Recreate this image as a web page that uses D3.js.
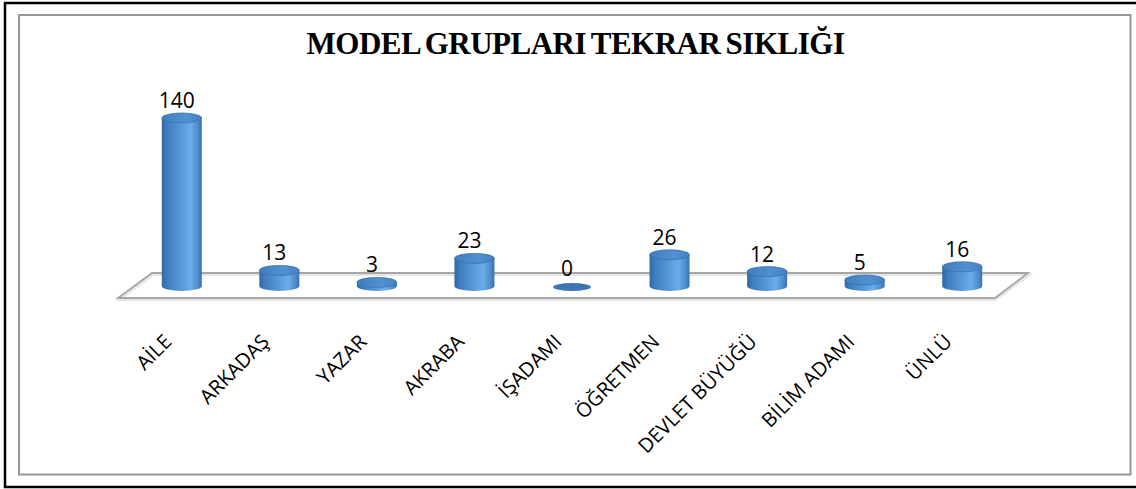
<!DOCTYPE html>
<html>
<head>
<meta charset="utf-8">
<script src="https://cdn.jsdelivr.net/npm/d3@7/dist/d3.min.js"></script>
<style>
  html, body { margin: 0; padding: 0; background: #fff; }
  svg { display: block; }
</style>
</head>
<body>
<svg id="chart" width="1136" height="489"></svg>
<script>
const categories = ["AİLE", "ARKADAŞ", "YAZAR", "AKRABA", "İŞADAMI", "ÖĞRETMEN", "DEVLET BÜYÜĞÜ", "BİLİM ADAMI", "ÜNLÜ"];
const values = [140, 13, 3, 23, 0, 26, 12, 5, 16];
const title = "MODEL GRUPLARI TEKRAR SIKLIĞI";

const svg = d3.select("#chart");

// frames
svg.append("rect").attr("x", 5).attr("y", 3).attr("width", 1140).attr("height", 484)
  .attr("fill", "none").attr("stroke", "#000").attr("stroke-width", 2.5);
svg.append("rect").attr("x", 19).attr("y", 15).attr("width", 1111.5).attr("height", 459.5)
  .attr("fill", "none").attr("stroke", "#969696").attr("stroke-width", 2);

// scales
const x = d3.scaleBand().domain(categories).range([133, 1011]).paddingInner(0).paddingOuter(0);
const y = d3.scaleLinear().domain([0, 140]).range([286, 118]);

// floor (plot area in 3D)
const x0 = x.range()[0], x1 = x.range()[1], yb = y(0);
const floorPts = [
  [x0 - 15, yb + 12], [x1 - 16, yb + 12], [x1 + 17, yb - 13], [x0 + 19, yb - 13]
];
svg.append("polygon").attr("points", floorPts.map(p => p.join(",")).join(" "))
  .attr("fill", "#fff").attr("stroke", "#e6e6e6").attr("stroke-width", 3)
  .attr("transform", "translate(1,1.5)");
svg.append("polygon").attr("points", floorPts.map(p => p.join(",")).join(" "))
  .attr("fill", "none").attr("stroke", "#a6a6a6").attr("stroke-width", 1.8);

// gradients
const defs = svg.append("defs");
const g = defs.append("linearGradient").attr("id", "cyl").attr("x1", "0").attr("x2", "1").attr("y1", "0").attr("y2", "0");
[[0, "#2f68a6"], [0.12, "#3d7bbd"], [0.55, "#5d9edd"], [0.72, "#6aaeea"], [0.9, "#4f8ccb"], [1, "#3870ad"]]
  .forEach(([o, c]) => g.append("stop").attr("offset", o).attr("stop-color", c));
const gt = defs.append("linearGradient").attr("id", "cyltop").attr("x1", "0").attr("x2", "1").attr("y1", "0").attr("y2", "0");
[[0, "#3f7dbd"], [0.6, "#5190d2"], [1, "#4482c2"]]
  .forEach(([o, c]) => gt.append("stop").attr("offset", o).attr("stop-color", c));

const bw = 40, rx = bw / 2, ry = 5;
const bars = svg.append("g").selectAll("g").data(categories).join("g");

bars.each(function (c, i) {
  const gsel = d3.select(this);
  const cx = x(c) + x.bandwidth() / 2;
  const top = y(values[i]);
  const base = y(0);
  if (values[i] > 0) {
    gsel.append("path")
      .attr("d", `M${cx - rx},${top} L${cx - rx},${base} A${rx},${ry} 0 0 0 ${cx + rx},${base} L${cx + rx},${top} Z`)
      .attr("fill", "url(#cyl)");
    gsel.append("ellipse").attr("cx", cx).attr("cy", top).attr("rx", rx).attr("ry", ry)
      .attr("fill", "url(#cyltop)").attr("stroke", "#3a73b0").attr("stroke-width", 0.8);
  } else {
    gsel.append("ellipse").attr("cx", cx).attr("cy", top + 1).attr("rx", rx - 1).attr("ry", ry - 1)
      .attr("fill", "#3c77b4");
  }
  gsel.append("text")
    .attr("x", cx - 5).attr("y", top - 10)
    .attr("text-anchor", "middle")
    .attr("font-family", "Open Sans, sans-serif").attr("font-size", 21)
    .attr("fill", "#000")
    .text(values[i]);
});

// category labels
svg.append("g").selectAll("text").data(categories).join("text")
  .attr("transform", d => `translate(${x(d) + x.bandwidth() / 2 - 9},${343}) rotate(-45)`)
  .attr("text-anchor", "end")
  .attr("font-family", "Open Sans, sans-serif").attr("font-size", 20)
  .attr("fill", "#000")
  .text(d => d);

// title
svg.append("text").attr("x", 575.5).attr("y", 54).attr("text-anchor", "middle")
  .attr("font-family", "Liberation Serif, Times New Roman, serif").attr("font-weight", "bold")
  .attr("font-size", 31).attr("letter-spacing", -0.5).attr("word-spacing", -2).attr("fill", "#000")
  .text(title);
</script>
</body>
</html>
